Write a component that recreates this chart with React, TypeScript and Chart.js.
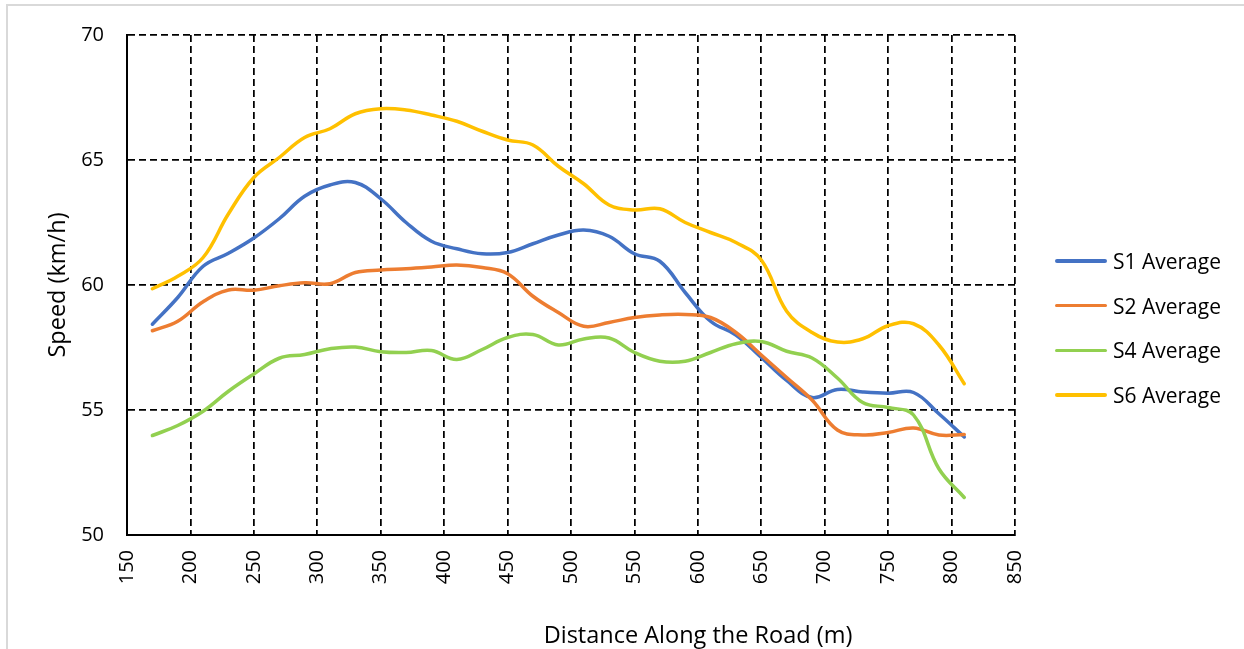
import React, { useEffect, useRef } from "react";
import { Chart, registerables } from "chart.js";

Chart.register(...registerables);

const distance = [170, 190, 210, 230, 250, 270, 290, 310, 330, 350, 370, 390, 410, 430, 450, 470, 490, 510, 530, 550, 570, 590, 610, 630, 650, 670, 690, 710, 730, 750, 770, 790, 810];

const s1Average = [58.43, 59.5, 60.75, 61.27, 61.88, 62.65, 63.55, 64.0, 64.1, 63.45, 62.5, 61.75, 61.45, 61.25, 61.3, 61.65, 62.0, 62.2, 61.95, 61.25, 60.95, 59.7, 58.55, 58.0, 57.1, 56.18, 55.5, 55.82, 55.72, 55.67, 55.7, 54.85, 53.92];
const s2Average = [58.17, 58.55, 59.33, 59.8, 59.79, 59.97, 60.09, 60.05, 60.5, 60.6, 60.65, 60.72, 60.8, 60.7, 60.45, 59.55, 58.9, 58.35, 58.5, 58.7, 58.8, 58.82, 58.7, 58.1, 57.2, 56.3, 55.4, 54.2, 54.0, 54.1, 54.28, 54.0, 54.02];
const s4Average = [53.98, 54.38, 54.95, 55.75, 56.44, 57.07, 57.22, 57.45, 57.52, 57.33, 57.3, 57.38, 57.02, 57.42, 57.9, 58.02, 57.6, 57.84, 57.88, 57.3, 56.95, 56.95, 57.3, 57.65, 57.74, 57.35, 57.08, 56.28, 55.3, 55.1, 54.8, 52.65, 51.5];
const s6Average = [59.85, 60.35, 61.1, 62.85, 64.3, 65.1, 65.9, 66.25, 66.85, 67.05, 67.0, 66.8, 66.55, 66.15, 65.8, 65.6, 64.75, 64.05, 63.2, 63.0, 63.05, 62.5, 62.1, 61.7, 61.0, 58.95, 58.1, 57.72, 57.85, 58.37, 58.45, 57.6, 56.05];

const seriesNames = ["S1 Average", "S2 Average", "S4 Average", "S6 Average"];
const seriesValues = [s1Average, s2Average, s4Average, s6Average];
const seriesColors = ["#4472C4", "#ED7D31", "#92D050", "#FFC000"];

const xTitle = "Distance Along the Road (m)";
const yTitle = "Speed (km/h)";

const FONT = "'Open Sans', sans-serif";

export default function App() {
  const canvasRef = useRef<HTMLCanvasElement | null>(null);

  useEffect(() => {
    const canvas = canvasRef.current;
    if (!canvas) return;
    const chart = new Chart(canvas, {
      type: "line",
      data: {
        datasets: seriesNames.map((name, i) => ({
          label: name,
          data: distance.map((d, j) => ({ x: d, y: seriesValues[i][j] })),
          borderColor: seriesColors[i],
          backgroundColor: seriesColors[i],
          borderWidth: 3.5,
          pointRadius: 0,
          tension: 0.4,
          fill: false,
          borderCapStyle: "round",
          order: seriesNames.length - 1 - i,
        })),
      },
      options: {
        animation: false,
        responsive: false,
        layout: { padding: { left: 0, top: 33, right: 229, bottom: 0 } },
        plugins: { legend: { display: false }, tooltip: { enabled: false } },
        scales: {
          x: {
            type: "linear",
            min: 150,
            max: 850,
            ticks: {
              stepSize: 50,
              minRotation: 90,
              maxRotation: 90,
              padding: 15,
              color: "#000",
              font: { family: FONT, size: 20 },
            },
            grid: { color: "#000", lineWidth: 1.75, drawTicks: false },
            border: { display: true, color: "#000", width: 2, dash: [7, 4] },
            afterFit: (scale: any) => {
              scale.height = 114;
            },
          },
          y: {
            min: 50,
            max: 70,
            ticks: {
              stepSize: 5,
              padding: 23,
              color: "#000",
              font: { family: FONT, size: 20 },
            },
            grid: { color: "#000", lineWidth: 1.75, drawTicks: false },
            border: { display: true, color: "#000", width: 2, dash: [7, 4] },
            title: {
              display: true,
              text: yTitle,
              color: "#000",
              font: { family: FONT, size: 23.5 },
              padding: { top: 44, bottom: 0 },
            },
            afterFit: (scale: any) => {
              scale.width = 127;
            },
          },
        },
      },
    } as any);
    return () => chart.destroy();
  }, []);

  return (
    <div style={{ position: "absolute", left: 0, top: 0, width: 1244, height: 649, overflow: "hidden", background: "#fff", fontFamily: FONT }}>
      <div style={{ position: "absolute", left: 6, top: 4, width: 1400, height: 800, borderLeft: "2px solid #d9d9d9", borderTop: "2px solid #d9d9d9" }} />
      <canvas ref={canvasRef} width={1244} height={649} style={{ position: "absolute", left: 0, top: 0 }} />
      <div style={{ position: "absolute", left: 698, top: 620, transform: "translateX(-50%)", fontSize: 23.5, lineHeight: "28px", whiteSpace: "nowrap", color: "#000" }}>{xTitle}</div>
      {seriesNames.map((name, i) => (
        <div key={name} style={{ position: "absolute", left: 1055, top: 261 + i * 44.7 - 13, height: 26, display: "flex", alignItems: "center", whiteSpace: "nowrap" }}>
          <div style={{ width: 52, height: 3.5, borderRadius: 2, background: seriesColors[i] }} />
          <span style={{ marginLeft: 6, fontSize: 21, lineHeight: "26px", color: "#000" }}>{name}</span>
        </div>
      ))}
    </div>
  );
}
